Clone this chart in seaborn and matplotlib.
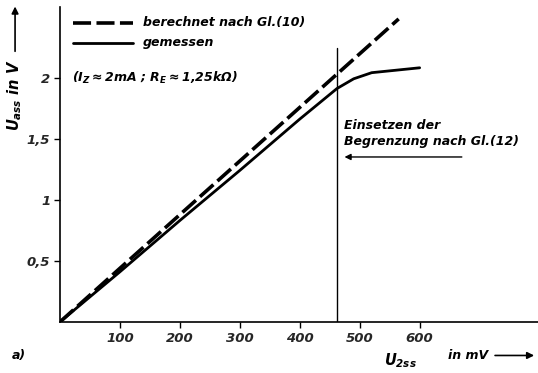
import matplotlib
matplotlib.use("Agg")
import matplotlib.pyplot as plt
import seaborn as sns
import pandas as pd

# Data
x_calc = [0, 565]
y_calc = [0, 2.48]
x_meas = [0, 100, 200, 300, 400, 462, 490, 520, 560, 600]
y_meas = [0, 0.41, 0.83, 1.24, 1.66, 1.91, 1.99, 2.04, 2.06, 2.08]
x_ticks = [100, 200, 300, 400, 500, 600]
y_ticks = [0.5, 1, 1.5, 2]
y_ticklabels = ["0,5", "1", "1,5", "2"]
limit_x = 462

sns.set_theme(style="white")
plt.rcParams["font.family"] = ["DejaVu Sans"]
plt.rcParams["mathtext.fontset"] = "custom"
plt.rcParams["mathtext.it"] = "DejaVu Sans:italic:bold"
plt.rcParams["mathtext.rm"] = "DejaVu Sans:italic:bold"
plt.rcParams["mathtext.default"] = "it"

fig = plt.figure(figsize=(5.38, 3.73), dpi=100)
ax = fig.add_axes([0.1115, 0.137, 0.888, 0.845])

df_calc = pd.DataFrame({"x": x_calc, "y": y_calc})
df_meas = pd.DataFrame({"x": x_meas, "y": y_meas})
sns.lineplot(data=df_calc, x="x", y="y", ax=ax, color="black", lw=2.6,
             linestyle=(0, (5, 1.5)))
sns.lineplot(data=df_meas, x="x", y="y", ax=ax, color="black", lw=2.0)

ax.axvline(limit_x, ymin=0, ymax=0.87, color="black", lw=1.0)

ax.set_xlim(0, 797)
ax.set_ylim(0, 2.58)
for s in ["top", "right"]:
    ax.spines[s].set_visible(False)
for s in ["left", "bottom"]:
    ax.spines[s].set_color("black")
    ax.spines[s].set_linewidth(1.2)

ax.set_xticks(x_ticks)
ax.set_xticklabels([str(v) for v in x_ticks], fontstyle="italic", fontweight="bold", fontsize=9.5)
ax.set_yticks(y_ticks)
ax.set_yticklabels(y_ticklabels, fontstyle="italic", fontweight="bold", fontsize=9.5)
ax.tick_params(axis="both", direction="out", length=4, width=1, color="black", pad=3,
               bottom=True, left=True)
ax.set_xlabel("")
ax.set_ylabel("")

tkw = dict(fontstyle="italic", fontweight="bold", color="black", fontsize=9)

# Legend (manual)
ax.plot([0.027, 0.153], [0.949, 0.949], transform=ax.transAxes, color="black", lw=2.6,
        linestyle=(0, (5, 1.5)))
ax.text(0.174, 0.949, "berechnet nach Gl.(10)", transform=ax.transAxes, va="center", ha="left", **tkw)
ax.plot([0.027, 0.153], [0.886, 0.886], transform=ax.transAxes, color="black", lw=2.0)
ax.text(0.174, 0.886, "gemessen", transform=ax.transAxes, va="center", ha="left", **tkw)
ax.text(0.025, 0.775, r"($I_Z$$\approx$2mA ; $R_E$$\approx$1,25k$\Omega$)", transform=ax.transAxes,
        va="center", ha="left", **tkw)

# Annotation
ax.text(474, 1.61, "Einsetzen der", va="center", ha="left", **tkw)
ax.text(474, 1.475, "Begrenzung nach Gl.(12)", va="center", ha="left", **tkw)
ax.annotate("", xy=(470, 1.35), xytext=(675, 1.35),
            arrowprops=dict(arrowstyle="-|>", color="black", lw=1.0, mutation_scale=9))

# Axis labels
lkw = dict(tkw, fontsize=10.5)
akw = dict(xycoords="figure fraction", textcoords="figure fraction", annotation_clip=False,
           arrowprops=dict(arrowstyle="-|>", color="black", lw=1.2, mutation_scale=10))
fig.text(0.028, 0.745, r"$U_{ass}$ in V", rotation=90, va="center", ha="center", **lkw)
ax.annotate("", xy=(0.028, 0.99), xytext=(0.028, 0.855), **akw)
fig.text(0.745, 0.032, r"$U_{2ss}$", va="center", ha="center", **lkw)
fig.text(0.833, 0.047, "in mV", va="center", ha="left", **tkw)
ax.annotate("", xy=(0.998, 0.047), xytext=(0.915, 0.047), **akw)
fig.text(0.022, 0.048, "a)", va="center", ha="left", **tkw)

fig.savefig("out.png", dpi=100)
